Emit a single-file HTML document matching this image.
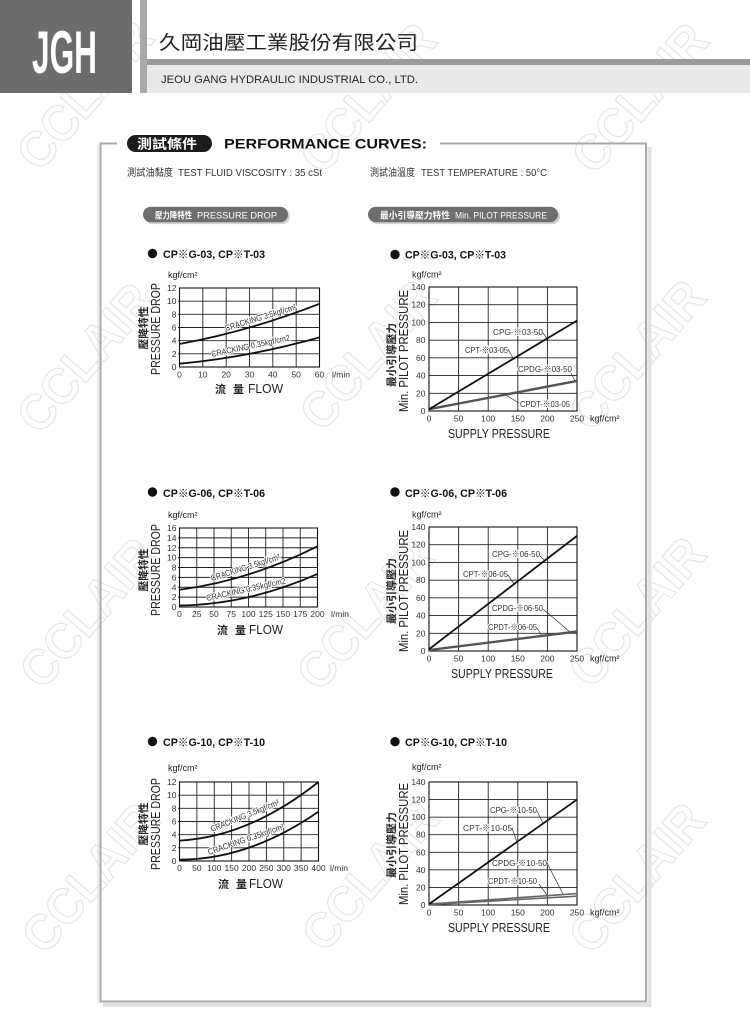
<!DOCTYPE html>
<html><head><meta charset="utf-8"><style>
html,body{margin:0;padding:0;background:#fff;}
svg{display:block;}
.t{font-family:"Liberation Sans","Noto Sans CJK TC",sans-serif;}
.n{font-family:"Liberation Sans Narrow","Liberation Sans","Noto Sans CJK TC",sans-serif;}
.cj{font-family:"Noto Sans CJK TC","WenQuanYi Zen Hei",sans-serif;}
.grid line{stroke:#222;stroke-width:0.9;}
.tk{font-family:"Liberation Sans Narrow","Liberation Sans",sans-serif;font-size:8.5px;fill:#333;}
.lb{font-family:"Liberation Sans Narrow","Liberation Sans","Noto Sans CJK TC",sans-serif;font-size:8.5px;fill:#333;stroke:#fff;stroke-width:2px;paint-order:stroke;}
.ld{stroke:#333;stroke-width:0.7;fill:none;}
</style></head><body>
<svg width="750" height="1010" viewBox="0 0 750 1010" xmlns="http://www.w3.org/2000/svg">
<rect width="750" height="1010" fill="#fff"/>

<!-- watermarks -->
<g class="t" font-weight="bold" font-size="50" fill="none" stroke="#e4e4e4" stroke-width="1.1">
<text transform="translate(85,95) rotate(-49)" text-anchor="middle" y="17" textLength="178" lengthAdjust="spacingAndGlyphs">CCLAIR</text>
<text transform="translate(368,98) rotate(-49)" text-anchor="middle" y="17" textLength="178" lengthAdjust="spacingAndGlyphs">CCLAIR</text>
<text transform="translate(640,98) rotate(-49)" text-anchor="middle" y="17" textLength="178" lengthAdjust="spacingAndGlyphs">CCLAIR</text>
<text transform="translate(85,358) rotate(-49)" text-anchor="middle" y="17" textLength="178" lengthAdjust="spacingAndGlyphs">CCLAIR</text>
<text transform="translate(368,355) rotate(-49)" text-anchor="middle" y="17" textLength="178" lengthAdjust="spacingAndGlyphs">CCLAIR</text>
<text transform="translate(637,355) rotate(-49)" text-anchor="middle" y="17" textLength="178" lengthAdjust="spacingAndGlyphs">CCLAIR</text>
<text transform="translate(88,613) rotate(-49)" text-anchor="middle" y="17" textLength="178" lengthAdjust="spacingAndGlyphs">CCLAIR</text>
<text transform="translate(365,615) rotate(-49)" text-anchor="middle" y="17" textLength="178" lengthAdjust="spacingAndGlyphs">CCLAIR</text>
<text transform="translate(637,612) rotate(-49)" text-anchor="middle" y="17" textLength="178" lengthAdjust="spacingAndGlyphs">CCLAIR</text>
<text transform="translate(90,878) rotate(-49)" text-anchor="middle" y="17" textLength="178" lengthAdjust="spacingAndGlyphs">CCLAIR</text>
<text transform="translate(370,876) rotate(-49)" text-anchor="middle" y="17" textLength="178" lengthAdjust="spacingAndGlyphs">CCLAIR</text>
<text transform="translate(637,878) rotate(-49)" text-anchor="middle" y="17" textLength="178" lengthAdjust="spacingAndGlyphs">CCLAIR</text>
</g>

<!-- header -->
<rect x="0" y="0" width="132" height="93" fill="#6c6c6c"/>
<rect x="140" y="0" width="7" height="93" fill="#a9a9a9"/>
<rect x="147" y="59" width="603" height="6" fill="#9b9b9b"/>
<rect x="147" y="65" width="603" height="28" fill="#e9e9e9"/>
<text x="32" y="73" font-size="60" font-weight="bold" fill="#fff" textLength="65" lengthAdjust="spacingAndGlyphs" class="t">JGH</text>
<text x="159" y="49" font-size="19" textLength="259" lengthAdjust="spacingAndGlyphs" class="cj" fill="#222">久岡油壓工業股份有限公司</text>
<text x="161" y="83" font-size="11" textLength="257" lengthAdjust="spacingAndGlyphs" class="t" fill="#222">JEOU GANG HYDRAULIC INDUSTRIAL CO., LTD.</text>

<!-- frame -->
<path d="M649.5,147 L649.5,1005 L103,1005" stroke="#e2e2e2" stroke-width="4" fill="none"/>
<path d="M117,143.5 L100.5,143.5 L100.5,1001.5 L646,1001.5 L646,143.5 L440,143.5" stroke="#a8a8a8" stroke-width="2" fill="none"/>
<line x1="98" y1="145" x2="98" y2="1003" stroke="#d8d8d8" stroke-width="1"/>

<rect x="127" y="135" width="85" height="17" rx="8.5" fill="#1c1c1c"/>
<text x="137" y="148.5" font-size="13" font-weight="bold" fill="#fff" textLength="60" lengthAdjust="spacingAndGlyphs" class="cj">測試條件</text>
<text x="224" y="148.5" font-size="14" font-weight="bold" fill="#111" textLength="203" lengthAdjust="spacingAndGlyphs" class="t">PERFORMANCE CURVES:</text>

<text x="127" y="176" font-size="10" class="cj" fill="#333" textLength="46" lengthAdjust="spacingAndGlyphs">測試油黏度</text>
<text x="178" y="176" font-size="10" class="t" fill="#333" textLength="144" lengthAdjust="spacingAndGlyphs">TEST FLUID VISCOSITY : 35 cSt</text>
<text x="370" y="176" font-size="10" class="cj" fill="#333" textLength="45" lengthAdjust="spacingAndGlyphs">測試油溫度</text>
<text x="421" y="176" font-size="10" class="t" fill="#333" textLength="126" lengthAdjust="spacingAndGlyphs">TEST TEMPERATURE : 50°C</text>

<rect x="145" y="208.5" width="145" height="15.6" rx="7.8" fill="#d2d2d2"/>
<rect x="143" y="206.7" width="145" height="15.6" rx="7.8" fill="#6e6e6e"/>
<text x="155" y="218.3" font-size="9" font-weight="bold" fill="#fff" textLength="37" lengthAdjust="spacingAndGlyphs" class="cj">壓力降特性</text>
<text x="197" y="218.3" font-size="9" fill="#fff" textLength="80" lengthAdjust="spacingAndGlyphs" class="t">PRESSURE DROP</text>
<rect x="370" y="208.5" width="190" height="15.6" rx="7.8" fill="#d2d2d2"/>
<rect x="368" y="206.7" width="190" height="15.6" rx="7.8" fill="#6e6e6e"/>
<text x="380" y="218.3" font-size="9" font-weight="bold" fill="#fff" textLength="70" lengthAdjust="spacingAndGlyphs" class="cj">最小引導壓力特性</text>
<text x="455" y="218.3" font-size="9" fill="#fff" textLength="92" lengthAdjust="spacingAndGlyphs" class="t">Min. PILOT PRESSURE</text>

<!-- chart titles -->
<g class="t" font-size="11" font-weight="bold" fill="#111">
<circle cx="152.5" cy="253.5" r="4.7" fill="#111"/>
<text x="163" y="258" textLength="102" lengthAdjust="spacingAndGlyphs">CP※G-03, CP※T-03</text>
<circle cx="395" cy="254.5" r="4.7" fill="#111"/>
<text x="405" y="258.5" textLength="101" lengthAdjust="spacingAndGlyphs">CP※G-03, CP※T-03</text>
<circle cx="152.5" cy="492" r="4.7" fill="#111"/>
<text x="163" y="497" textLength="102" lengthAdjust="spacingAndGlyphs">CP※G-06, CP※T-06</text>
<circle cx="395" cy="492" r="4.7" fill="#111"/>
<text x="405" y="497" textLength="102" lengthAdjust="spacingAndGlyphs">CP※G-06, CP※T-06</text>
<circle cx="152.5" cy="741.5" r="4.7" fill="#111"/>
<text x="163" y="746" textLength="102" lengthAdjust="spacingAndGlyphs">CP※G-10, CP※T-10</text>
<circle cx="395" cy="741.7" r="4.7" fill="#111"/>
<text x="405" y="746" textLength="102" lengthAdjust="spacingAndGlyphs">CP※G-10, CP※T-10</text>
</g>

<!-- ============ LEFT CHART 1 ============ -->
<g class="grid">
<line x1="202.83" y1="288" x2="202.83" y2="367"/><line x1="226.17" y1="288" x2="226.17" y2="367"/><line x1="249.5" y1="288" x2="249.5" y2="367"/><line x1="272.83" y1="288" x2="272.83" y2="367"/><line x1="296.17" y1="288" x2="296.17" y2="367"/>
<line x1="178" y1="301.17" x2="319.5" y2="301.17"/><line x1="178" y1="314.33" x2="319.5" y2="314.33"/><line x1="178" y1="327.5" x2="319.5" y2="327.5"/><line x1="178" y1="340.67" x2="319.5" y2="340.67"/><line x1="178" y1="353.83" x2="319.5" y2="353.83"/>
</g>
<rect x="179.5" y="288" width="140" height="79" fill="none" stroke="#111" stroke-width="1.1"/>
<g class="tk" text-anchor="end">
<text x="176.5" y="291">12</text><text x="176.5" y="304.2">10</text><text x="176.5" y="317.3">8</text><text x="176.5" y="330.5">6</text><text x="176.5" y="343.7">4</text><text x="176.5" y="356.8">2</text><text x="176.5" y="370">0</text>
</g>
<g class="tk" text-anchor="middle">
<text x="179.5" y="377.5">0</text><text x="202.8" y="377.5">10</text><text x="226.2" y="377.5">20</text><text x="249.5" y="377.5">30</text><text x="272.8" y="377.5">40</text><text x="296.2" y="377.5">50</text><text x="319.5" y="377.5">60</text>
</g>
<text x="332" y="377.5" class="tk" font-size="9">l/min</text>
<text x="168" y="278" class="n" font-size="9" fill="#222">kgf/cm²</text>
<text transform="translate(160,329) rotate(-90)" text-anchor="middle" font-size="12.5" textLength="92" lengthAdjust="spacingAndGlyphs" class="n" fill="#222">PRESSURE DROP</text>
<text transform="translate(147,328) rotate(-90)" text-anchor="middle" font-size="10.5" font-weight="bold" textLength="43" lengthAdjust="spacingAndGlyphs" class="cj" fill="#222">壓降特性</text>
<text x="215" y="393" font-size="11" font-weight="bold" class="cj" fill="#222">流</text>
<text x="233" y="393" font-size="11" font-weight="bold" class="cj" fill="#222">量</text>
<text x="248" y="393" font-size="12.5" textLength="35" lengthAdjust="spacingAndGlyphs" class="n" fill="#222">FLOW</text>
<text transform="translate(226,331) rotate(-17)" textLength="74" lengthAdjust="spacingAndGlyphs" class="lb">CRACKING 3.5kgf/cm²</text>
<text transform="translate(212,357) rotate(-12)" textLength="80" lengthAdjust="spacingAndGlyphs" class="lb">CRACKING 0.35kgf/cm2</text>
<path d="M179.5,343.96 Q249.5,331.12 319.5,303.8" stroke="#111" stroke-width="1.8" fill="none"/>
<path d="M179.5,363.7 Q249.5,357.13 319.5,337.38" stroke="#111" stroke-width="1.8" fill="none"/>

<!-- ============ LEFT CHART 2 ============ -->
<g class="grid">
<line x1="196.75" y1="528" x2="196.75" y2="607"/><line x1="214" y1="528" x2="214" y2="607"/><line x1="231.25" y1="528" x2="231.25" y2="607"/><line x1="248.5" y1="528" x2="248.5" y2="607"/><line x1="265.75" y1="528" x2="265.75" y2="607"/><line x1="283" y1="528" x2="283" y2="607"/><line x1="300.25" y1="528" x2="300.25" y2="607"/>
<line x1="178" y1="537.875" x2="317.5" y2="537.875"/><line x1="178" y1="547.75" x2="317.5" y2="547.75"/><line x1="178" y1="557.625" x2="317.5" y2="557.625"/><line x1="178" y1="567.5" x2="317.5" y2="567.5"/><line x1="178" y1="577.375" x2="317.5" y2="577.375"/><line x1="178" y1="587.25" x2="317.5" y2="587.25"/><line x1="178" y1="597.125" x2="317.5" y2="597.125"/>
</g>
<rect x="179.5" y="528" width="138" height="79" fill="none" stroke="#111" stroke-width="1.1"/>
<g class="tk" text-anchor="end">
<text x="176.5" y="531">16</text><text x="176.5" y="540.9">14</text><text x="176.5" y="550.75">12</text><text x="176.5" y="560.6">10</text><text x="176.5" y="570.5">8</text><text x="176.5" y="580.4">6</text><text x="176.5" y="590.25">4</text><text x="176.5" y="600.1">2</text><text x="176.5" y="610">0</text>
</g>
<g class="tk" text-anchor="middle">
<text x="179.5" y="617">0</text><text x="196.75" y="617">25</text><text x="214" y="617">50</text><text x="231.25" y="617">75</text><text x="248.5" y="617">100</text><text x="265.75" y="617">125</text><text x="283" y="617">150</text><text x="300.25" y="617">175</text><text x="317.5" y="617">200</text>
</g>
<text x="331" y="617" class="tk" font-size="9">l/min</text>
<text x="168" y="518" class="n" font-size="9" fill="#222">kgf/cm²</text>
<text transform="translate(160,570) rotate(-90)" text-anchor="middle" font-size="12.5" textLength="92" lengthAdjust="spacingAndGlyphs" class="n" fill="#222">PRESSURE DROP</text>
<text transform="translate(147,570) rotate(-90)" text-anchor="middle" font-size="10.5" font-weight="bold" textLength="43" lengthAdjust="spacingAndGlyphs" class="cj" fill="#222">壓降特性</text>
<text x="217" y="634" font-size="11" font-weight="bold" class="cj" fill="#222">流</text>
<text x="235" y="634" font-size="11" font-weight="bold" class="cj" fill="#222">量</text>
<text x="249" y="634" font-size="12.5" textLength="34" lengthAdjust="spacingAndGlyphs" class="n" fill="#222">FLOW</text>
<text transform="translate(212,581) rotate(-17.5)" textLength="72" lengthAdjust="spacingAndGlyphs" class="lb">CRACKING 3.5kgf/cm²</text>
<text transform="translate(207,601) rotate(-12.5)" textLength="81" lengthAdjust="spacingAndGlyphs" class="lb">CRACKING 0.35kgf/cm2</text>
<path d="M179.5,589.72 Q248.5,580.83 317.5,546.27" stroke="#111" stroke-width="1.8" fill="none"/>
<path d="M179.5,605.52 Q248.5,604.53 317.5,573.92" stroke="#111" stroke-width="1.8" fill="none"/>

<!-- ============ LEFT CHART 3 ============ -->
<g class="grid">
<line x1="196.875" y1="782" x2="196.875" y2="861"/><line x1="214.25" y1="782" x2="214.25" y2="861"/><line x1="231.625" y1="782" x2="231.625" y2="861"/><line x1="249" y1="782" x2="249" y2="861"/><line x1="266.375" y1="782" x2="266.375" y2="861"/><line x1="283.75" y1="782" x2="283.75" y2="861"/><line x1="301.125" y1="782" x2="301.125" y2="861"/>
<line x1="178" y1="795.17" x2="318.5" y2="795.17"/><line x1="178" y1="808.33" x2="318.5" y2="808.33"/><line x1="178" y1="821.5" x2="318.5" y2="821.5"/><line x1="178" y1="834.67" x2="318.5" y2="834.67"/><line x1="178" y1="847.83" x2="318.5" y2="847.83"/>
</g>
<rect x="179.5" y="782" width="139" height="79" fill="none" stroke="#111" stroke-width="1.1"/>
<g class="tk" text-anchor="end">
<text x="176.5" y="785">12</text><text x="176.5" y="798.2">10</text><text x="176.5" y="811.3">8</text><text x="176.5" y="824.5">6</text><text x="176.5" y="837.7">4</text><text x="176.5" y="850.8">2</text><text x="176.5" y="864">0</text>
</g>
<g class="tk" text-anchor="middle">
<text x="179.5" y="871">0</text><text x="196.875" y="871">50</text><text x="214.25" y="871">100</text><text x="231.625" y="871">150</text><text x="249" y="871">200</text><text x="266.375" y="871">250</text><text x="283.75" y="871">300</text><text x="301.125" y="871">350</text><text x="318.5" y="871">400</text>
</g>
<text x="330" y="871" class="tk" font-size="9">l/min</text>
<text x="168" y="771" class="n" font-size="9" fill="#222">kgf/cm²</text>
<text transform="translate(160,824) rotate(-90)" text-anchor="middle" font-size="12.5" textLength="92" lengthAdjust="spacingAndGlyphs" class="n" fill="#222">PRESSURE DROP</text>
<text transform="translate(147,824) rotate(-90)" text-anchor="middle" font-size="10.5" font-weight="bold" textLength="43" lengthAdjust="spacingAndGlyphs" class="cj" fill="#222">壓降特性</text>
<text x="218" y="888" font-size="11" font-weight="bold" class="cj" fill="#222">流</text>
<text x="236" y="888" font-size="11" font-weight="bold" class="cj" fill="#222">量</text>
<text x="249" y="888" font-size="12.5" textLength="34" lengthAdjust="spacingAndGlyphs" class="n" fill="#222">FLOW</text>
<text transform="translate(212,832) rotate(-22)" textLength="73" lengthAdjust="spacingAndGlyphs" class="lb">CRACKING 3.5kgf/cm²</text>
<text transform="translate(209,855) rotate(-19)" textLength="80" lengthAdjust="spacingAndGlyphs" class="lb">CRACKING 0.35kgf/cm²</text>
<path d="M179.5,840.59 Q249,836.97 318.5,782" stroke="#111" stroke-width="1.8" fill="none"/>
<path d="M179.5,859.68 Q249,859.68 318.5,811.63" stroke="#111" stroke-width="1.8" fill="none"/>

<!-- ============ RIGHT CHART 1 ============ -->
<g class="grid">
<line x1="458.6" y1="287" x2="458.6" y2="411"/><line x1="488.2" y1="287" x2="488.2" y2="411"/><line x1="517.8" y1="287" x2="517.8" y2="411"/><line x1="547.4" y1="287" x2="547.4" y2="411"/>
<line x1="429" y1="304.71" x2="577" y2="304.71"/><line x1="429" y1="322.43" x2="577" y2="322.43"/><line x1="429" y1="340.14" x2="577" y2="340.14"/><line x1="429" y1="357.86" x2="577" y2="357.86"/><line x1="429" y1="375.57" x2="577" y2="375.57"/><line x1="429" y1="393.29" x2="577" y2="393.29"/>
</g>
<rect x="429" y="287" width="148" height="124" fill="none" stroke="#111" stroke-width="1.1"/>
<g class="tk" text-anchor="end">
<text x="425.5" y="290">140</text><text x="425.5" y="307.7">120</text><text x="425.5" y="325.4">100</text><text x="425.5" y="343.1">80</text><text x="425.5" y="360.9">60</text><text x="425.5" y="378.6">40</text><text x="425.5" y="396.3">20</text><text x="425.5" y="414">0</text>
</g>
<g class="tk" text-anchor="middle">
<text x="429" y="421.5">0</text><text x="458.6" y="421.5">50</text><text x="488.2" y="421.5">100</text><text x="517.8" y="421.5">150</text><text x="547.4" y="421.5">200</text><text x="577" y="421.5">250</text>
</g>
<text x="590" y="421.5" class="n" font-size="9" fill="#222">kgf/cm²</text>
<text x="412" y="277.5" class="n" font-size="9" fill="#222">kgf/cm²</text>
<text transform="translate(408,351) rotate(-90)" text-anchor="middle" font-size="13" textLength="122" lengthAdjust="spacingAndGlyphs" class="n" fill="#222">Min. PILOT PRESSURE</text>
<text transform="translate(395,355) rotate(-90)" text-anchor="middle" font-size="10.5" font-weight="bold" textLength="64" lengthAdjust="spacingAndGlyphs" class="cj" fill="#222">最小引導壓力</text>
<text x="448" y="438" font-size="12.5" textLength="102" lengthAdjust="spacingAndGlyphs" class="n" fill="#222">SUPPLY PRESSURE</text>
<text x="493" y="335" textLength="50" lengthAdjust="spacingAndGlyphs" class="lb">CPG-※03-50</text>
<text x="465" y="353" textLength="43" lengthAdjust="spacingAndGlyphs" class="lb">CPT-※03-05</text>
<text x="518" y="372" textLength="54" lengthAdjust="spacingAndGlyphs" class="lb">CPDG-※03-50</text>
<text x="520" y="407" textLength="50" lengthAdjust="spacingAndGlyphs" class="lb">CPDT-※03-05</text>
<path class="ld" d="M543,333 L548,340 M508,349 L513,358 M571,373 L575,381 M519,403 L504,394"/>
<path d="M429,409.23 L577,380.89" stroke="#555" stroke-width="2.4" fill="none"/>
<path d="M429,409.23 L577,320.66" stroke="#111" stroke-width="1.8" fill="none"/>

<!-- ============ RIGHT CHART 2 ============ -->
<g class="grid">
<line x1="458.6" y1="527" x2="458.6" y2="651"/><line x1="488.2" y1="527" x2="488.2" y2="651"/><line x1="517.8" y1="527" x2="517.8" y2="651"/><line x1="547.4" y1="527" x2="547.4" y2="651"/>
<line x1="429" y1="544.71" x2="577" y2="544.71"/><line x1="429" y1="562.43" x2="577" y2="562.43"/><line x1="429" y1="580.14" x2="577" y2="580.14"/><line x1="429" y1="597.86" x2="577" y2="597.86"/><line x1="429" y1="615.57" x2="577" y2="615.57"/><line x1="429" y1="633.29" x2="577" y2="633.29"/>
</g>
<rect x="429" y="527" width="148" height="124" fill="none" stroke="#111" stroke-width="1.1"/>
<g class="tk" text-anchor="end">
<text x="425.5" y="530">140</text><text x="425.5" y="547.7">120</text><text x="425.5" y="565.4">100</text><text x="425.5" y="583.1">80</text><text x="425.5" y="600.9">60</text><text x="425.5" y="618.6">40</text><text x="425.5" y="636.3">20</text><text x="425.5" y="654">0</text>
</g>
<g class="tk" text-anchor="middle">
<text x="429" y="661.5">0</text><text x="458.6" y="661.5">50</text><text x="488.2" y="661.5">100</text><text x="517.8" y="661.5">150</text><text x="547.4" y="661.5">200</text><text x="577" y="661.5">250</text>
</g>
<text x="590" y="661.5" class="n" font-size="9" fill="#222">kgf/cm²</text>
<text x="412" y="517.5" class="n" font-size="9" fill="#222">kgf/cm²</text>
<text transform="translate(408,591) rotate(-90)" text-anchor="middle" font-size="13" textLength="122" lengthAdjust="spacingAndGlyphs" class="n" fill="#222">Min. PILOT PRESSURE</text>
<text transform="translate(395,591) rotate(-90)" text-anchor="middle" font-size="10.5" font-weight="bold" textLength="66" lengthAdjust="spacingAndGlyphs" class="cj" fill="#222">最小引導壓力</text>
<text x="451" y="678" font-size="12.5" textLength="102" lengthAdjust="spacingAndGlyphs" class="n" fill="#222">SUPPLY PRESSURE</text>
<text x="492" y="557" textLength="48" lengthAdjust="spacingAndGlyphs" class="lb">CPG-※06-50</text>
<text x="463" y="577" textLength="45" lengthAdjust="spacingAndGlyphs" class="lb">CPT-※06-05</text>
<text x="492" y="611" textLength="51" lengthAdjust="spacingAndGlyphs" class="lb">CPDG-※06-50</text>
<text x="488" y="630" textLength="49" lengthAdjust="spacingAndGlyphs" class="lb">CPDT-※06-05</text>
<path class="ld" d="M540,556 L545,561 M508,575 L514,584 M543,609 L570,632 M537,628 L542,636"/>
<path d="M429,650.1 L577,631.5" stroke="#555" stroke-width="2.4" fill="none"/>
<path d="M429,649.23 L577,535.86" stroke="#111" stroke-width="1.8" fill="none"/>

<!-- ============ RIGHT CHART 3 ============ -->
<g class="grid">
<line x1="458.6" y1="782" x2="458.6" y2="905"/><line x1="488.2" y1="782" x2="488.2" y2="905"/><line x1="517.8" y1="782" x2="517.8" y2="905"/><line x1="547.4" y1="782" x2="547.4" y2="905"/>
<line x1="429" y1="799.57" x2="577" y2="799.57"/><line x1="429" y1="817.14" x2="577" y2="817.14"/><line x1="429" y1="834.71" x2="577" y2="834.71"/><line x1="429" y1="852.29" x2="577" y2="852.29"/><line x1="429" y1="869.86" x2="577" y2="869.86"/><line x1="429" y1="887.43" x2="577" y2="887.43"/>
</g>
<rect x="429" y="782" width="148" height="123" fill="none" stroke="#111" stroke-width="1.1"/>
<g class="tk" text-anchor="end">
<text x="425.5" y="785">140</text><text x="425.5" y="802.6">120</text><text x="425.5" y="820.1">100</text><text x="425.5" y="837.7">80</text><text x="425.5" y="855.3">60</text><text x="425.5" y="872.9">40</text><text x="425.5" y="890.4">20</text><text x="425.5" y="908">0</text>
</g>
<g class="tk" text-anchor="middle">
<text x="429" y="915.5">0</text><text x="458.6" y="915.5">50</text><text x="488.2" y="915.5">100</text><text x="517.8" y="915.5">150</text><text x="547.4" y="915.5">200</text><text x="577" y="915.5">250</text>
</g>
<text x="590" y="915.5" class="n" font-size="9" fill="#222">kgf/cm²</text>
<text x="412" y="770" class="n" font-size="9" fill="#222">kgf/cm²</text>
<text transform="translate(408,844) rotate(-90)" text-anchor="middle" font-size="13" textLength="122" lengthAdjust="spacingAndGlyphs" class="n" fill="#222">Min. PILOT PRESSURE</text>
<text transform="translate(395,845) rotate(-90)" text-anchor="middle" font-size="10.5" font-weight="bold" textLength="66" lengthAdjust="spacingAndGlyphs" class="cj" fill="#222">最小引導壓力</text>
<text x="448" y="932" font-size="12.5" textLength="102" lengthAdjust="spacingAndGlyphs" class="n" fill="#222">SUPPLY PRESSURE</text>
<text x="490" y="813" textLength="47" lengthAdjust="spacingAndGlyphs" class="lb">CPG-※10-50</text>
<text x="463" y="831" textLength="49" lengthAdjust="spacingAndGlyphs" class="lb">CPT-※10-05</text>
<text x="492" y="866" textLength="55" lengthAdjust="spacingAndGlyphs" class="lb">CPDG-※10-50</text>
<text x="488" y="884" textLength="49" lengthAdjust="spacingAndGlyphs" class="lb">CPDT-※10-50</text>
<path class="ld" d="M537,811 L543,823 M512,828 L517,842 M547,863 L563,894 M539,884 L547,895"/>
<path d="M429,904.1 L577,893.58" stroke="#666" stroke-width="1.6" fill="none"/>
<path d="M429,904.6 L577,896.2" stroke="#666" stroke-width="1.6" fill="none"/>
<path d="M429,904.1 L577,799.57" stroke="#111" stroke-width="1.8" fill="none"/>
</svg>
</body></html>
